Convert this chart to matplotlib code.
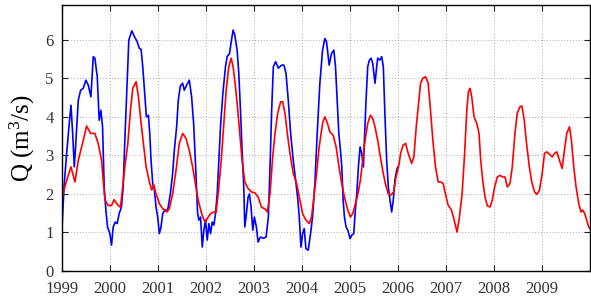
"""Observed vs simulated discharge Q, 1999-2010."""

import matplotlib

matplotlib.use("Agg")
import matplotlib.pyplot as plt

# observed discharge (blue), decimal years / m^3/s
OBS_T = [
    1999.000, 1999.042, 1999.097, 1999.145, 1999.187, 1999.222, 1999.256, 1999.291,
    1999.339, 1999.388, 1999.443, 1999.498, 1999.547, 1999.602, 1999.651, 1999.685,
    1999.734, 1999.775, 1999.810, 1999.845, 1999.879, 1999.914, 1999.949, 1999.997,
    2000.032, 2000.066, 2000.108, 2000.149, 2000.191, 2000.239, 2000.274, 2000.309,
    2000.343, 2000.392, 2000.454, 2000.509, 2000.565, 2000.613, 2000.648, 2000.682,
    2000.717, 2000.758, 2000.800, 2000.828, 2000.855, 2000.890, 2000.925, 2000.959,
    2000.994, 2001.028, 2001.063, 2001.098, 2001.146, 2001.202, 2001.257, 2001.305,
    2001.340, 2001.388, 2001.423, 2001.465, 2001.513, 2001.548, 2001.596, 2001.652,
    2001.700, 2001.742, 2001.790, 2001.825, 2001.852, 2001.887, 2001.922, 2001.956,
    2001.991, 2002.025, 2002.060, 2002.095, 2002.129, 2002.164, 2002.198, 2002.233,
    2002.268, 2002.302, 2002.351, 2002.406, 2002.441, 2002.489, 2002.531, 2002.565,
    2002.600, 2002.648, 2002.683, 2002.718, 2002.752, 2002.787, 2002.808, 2002.842,
    2002.877, 2002.905, 2002.939, 2002.974, 2003.008, 2003.050, 2003.085, 2003.133,
    2003.200, 2003.251, 2003.299, 2003.334, 2003.368, 2003.403, 2003.451, 2003.507,
    2003.576, 2003.624, 2003.666, 2003.714, 2003.763, 2003.818, 2003.867, 2003.908,
    2003.943, 2003.978, 2004.012, 2004.047, 2004.081, 2004.130, 2004.178, 2004.220,
    2004.268, 2004.317, 2004.372, 2004.428, 2004.476, 2004.511, 2004.566, 2004.614,
    2004.663, 2004.698, 2004.732, 2004.767, 2004.801, 2004.829, 2004.857, 2004.884,
    2004.919, 2004.954, 2005.002, 2005.037, 2005.078, 2005.106, 2005.141, 2005.175,
    2005.210, 2005.244, 2005.279, 2005.300, 2005.334, 2005.369, 2005.404, 2005.438,
    2005.473, 2005.521, 2005.556, 2005.577, 2005.618, 2005.660, 2005.694, 2005.729,
    2005.764, 2005.798, 2005.833, 2005.868, 2005.902, 2005.936, 2005.971, 2005.995,
]
OBS_Q = [
    1.10, 2.18, 3.05, 3.74, 4.30, 3.57, 2.70, 3.39,
    4.43, 4.69, 4.74, 4.95, 4.82, 4.52, 5.56, 5.52,
    5.04, 3.91, 4.17, 3.74, 2.18, 1.58, 1.14, 0.97,
    0.67, 1.14, 1.27, 1.23, 1.49, 1.66, 2.18, 3.39,
    4.43, 5.99, 6.23, 6.08, 5.95, 5.77, 5.75, 5.30,
    4.69, 4.00, 4.04, 3.57, 2.87, 2.27, 2.10, 1.66,
    1.40, 0.97, 1.14, 1.49, 1.58, 1.58, 2.00, 2.53,
    3.13, 3.74, 4.43, 4.80, 4.87, 4.69, 4.82, 4.95,
    4.52, 3.83, 2.53, 1.50, 1.32, 1.40, 0.62, 1.06,
    1.32, 0.80, 1.23, 0.97, 1.27, 1.19, 1.49, 2.00,
    2.87, 3.74, 4.60, 5.30, 5.56, 5.64, 5.99, 6.25,
    6.12, 5.73, 5.13, 4.17, 3.13, 2.18, 1.14, 1.49,
    1.92, 2.00, 1.66, 1.06, 1.40, 1.14, 0.75, 0.88,
    0.85, 0.88, 1.40, 2.70, 4.17, 5.30, 5.43, 5.26,
    5.34, 5.34, 5.13, 4.43, 3.57, 2.87, 2.36, 1.92,
    1.40, 0.62, 0.97, 1.10, 0.58, 0.54, 0.97, 1.40,
    2.27, 3.57, 4.87, 5.73, 6.03, 5.95, 5.34, 5.64,
    5.73, 5.30, 4.43, 3.57, 3.13, 2.70, 1.84, 1.40,
    1.14, 1.06, 0.84, 0.93, 0.97, 1.49, 2.00, 2.70,
    3.22, 3.05, 2.70, 3.39, 4.43, 5.30, 5.47, 5.52,
    5.39, 4.87, 5.30, 5.52, 5.47, 5.56, 5.30, 4.00,
    2.87, 2.18, 1.84, 1.53, 1.84, 2.36, 2.61, 2.70,
]

# simulated discharge (red)
SIM_T = [
    1999.000, 1999.014, 1999.097, 1999.187, 1999.270, 1999.339, 1999.443, 1999.512,
    1999.595, 1999.685, 1999.755, 1999.824, 1999.893, 1999.962, 2000.032, 2000.087,
    2000.149, 2000.219, 2000.309, 2000.371, 2000.426, 2000.475, 2000.544, 2000.592,
    2000.648, 2000.703, 2000.752, 2000.821, 2000.869, 2000.911, 2000.959, 2001.028,
    2001.098, 2001.188, 2001.236, 2001.305, 2001.375, 2001.444, 2001.513, 2001.582,
    2001.652, 2001.721, 2001.790, 2001.838, 2001.908, 2001.977, 2002.025, 2002.095,
    2002.164, 2002.212, 2002.268, 2002.323, 2002.372, 2002.420, 2002.475, 2002.524,
    2002.565, 2002.614, 2002.662, 2002.704, 2002.752, 2002.808, 2002.877, 2002.946,
    2003.015, 2003.085, 2003.154, 2003.237, 2003.278, 2003.334, 2003.389, 2003.438,
    2003.493, 2003.555, 2003.597, 2003.645, 2003.694, 2003.749, 2003.818, 2003.888,
    2003.957, 2004.012, 2004.081, 2004.151, 2004.199, 2004.248, 2004.303, 2004.358,
    2004.428, 2004.476, 2004.531, 2004.580, 2004.649, 2004.711, 2004.760, 2004.815,
    2004.884, 2004.954, 2005.009, 2005.058, 2005.106, 2005.161, 2005.217, 2005.265,
    2005.314, 2005.369, 2005.424, 2005.473, 2005.521, 2005.577, 2005.632, 2005.681,
    2005.736, 2005.798, 2005.854, 2005.909, 2005.958, 2006.020, 2006.054, 2006.103,
    2006.158, 2006.214, 2006.283, 2006.331, 2006.380, 2006.421, 2006.470, 2006.518,
    2006.574, 2006.629, 2006.677, 2006.726, 2006.781, 2006.837, 2006.885, 2006.941,
    2006.989, 2007.044, 2007.114, 2007.162, 2007.231, 2007.280, 2007.335, 2007.384,
    2007.435, 2007.467, 2007.501, 2007.536, 2007.584, 2007.640, 2007.688, 2007.723,
    2007.764, 2007.813, 2007.861, 2007.917, 2007.965, 2008.007, 2008.069, 2008.124,
    2008.180, 2008.228, 2008.277, 2008.332, 2008.381, 2008.436, 2008.484, 2008.540,
    2008.581, 2008.630, 2008.678, 2008.736, 2008.789, 2008.844, 2008.893, 2008.948,
    2009.004, 2009.052, 2009.100, 2009.156, 2009.211, 2009.260, 2009.308, 2009.364,
    2009.419, 2009.467, 2009.516, 2009.571, 2009.613, 2009.661, 2009.710, 2009.765,
    2009.813, 2009.848, 2009.890, 2009.931, 2009.973, 2010.000,
]
SIM_Q = [
    1.90, 1.97, 2.35, 2.70, 2.31, 2.87, 3.39, 3.76,
    3.57, 3.57, 3.30, 2.87, 1.85, 1.70, 1.70, 1.85,
    1.73, 1.65, 2.70, 3.30, 4.17, 4.74, 4.91, 4.52,
    3.83, 3.22, 2.70, 2.31, 2.10, 2.24, 2.00, 1.75,
    1.62, 1.53, 1.62, 2.00, 2.61, 3.31, 3.57, 3.44,
    3.13, 2.70, 2.18, 1.84, 1.49, 1.27, 1.36, 1.49,
    1.53, 1.53, 2.18, 2.96, 3.83, 4.69, 5.30, 5.52,
    5.30, 4.78, 4.17, 3.57, 2.87, 2.31, 2.14, 2.05,
    2.03, 1.92, 1.66, 1.60, 1.53, 2.00, 2.96, 3.57,
    4.09, 4.39, 4.39, 4.09, 3.57, 3.05, 2.53, 2.27,
    1.84, 1.49, 1.32, 1.23, 1.40, 1.92, 2.53, 3.22,
    3.83, 4.00, 3.83, 3.61, 3.52, 3.22, 2.79, 2.36,
    1.92, 1.58, 1.40, 1.49, 1.71, 1.97, 2.36, 2.87,
    3.39, 3.83, 4.04, 3.96, 3.74, 3.39, 2.96, 2.61,
    2.27, 2.00, 1.97, 2.05, 2.44, 2.75, 3.05, 3.26,
    3.31, 3.05, 2.79, 2.96, 3.74, 4.26, 4.87, 5.00,
    5.04, 4.87, 4.17, 3.39, 2.70, 2.31, 2.31, 2.27,
    2.00, 1.71, 1.58, 1.36, 1.01, 1.40, 2.00, 2.96,
    4.20, 4.65, 4.74, 4.52, 4.00, 3.83, 3.57, 2.87,
    2.36, 1.92, 1.69, 1.66, 1.84, 2.14, 2.44, 2.48,
    2.44, 2.44, 2.18, 2.27, 2.70, 3.57, 4.09, 4.26,
    4.28, 3.91, 3.31, 2.70, 2.30, 2.05, 1.99, 2.10,
    2.53, 3.05, 3.09, 3.03, 2.96, 3.05, 3.09, 2.87,
    2.66, 3.13, 3.57, 3.74, 3.39, 2.70, 2.18, 1.75,
    1.53, 1.58, 1.49, 1.32, 1.14, 1.10,
]

YEARS = list(range(1999, 2010))
Q_TICKS = [0, 1, 2, 3, 4, 5, 6]

plt.rcParams["font.family"] = ["Liberation Serif", "DejaVu Serif"]
plt.rcParams["mathtext.fontset"] = "custom"
plt.rcParams["mathtext.rm"] = "Liberation Serif"
plt.rcParams["mathtext.it"] = "Liberation Serif:italic"

fig = plt.figure(figsize=(5.91, 2.99), dpi=100)
ax = fig.add_axes([62 / 591, 28 / 299, 528 / 591, 266 / 299])

ax.plot(OBS_T, OBS_Q, color="#0000ff", linewidth=1.2)
ax.plot(SIM_T, SIM_Q, color="#ff0000", linewidth=1.2)

ax.set_xlim(1999, 2010)
ax.set_ylim(0, 6.9)
ax.set_xticks(YEARS)
ax.set_xticklabels([str(y) for y in YEARS])
ax.set_yticks(Q_TICKS)
ax.tick_params(direction="in", top=True, right=True, length=4, width=0.8,
               labelsize=12, colors="#222222", labelcolor="#333333")
ax.tick_params(axis="y", pad=6)
ax.tick_params(axis="x", pad=7)
ax.grid(True, linestyle=(0, (1, 2)), color="#aaaaaa", linewidth=0.7)
for s in ax.spines.values():
    s.set_linewidth(1.0)
ax.set_ylabel("Q (m$^3$/s)", fontsize=18, labelpad=6)

fig.savefig("out.png", dpi=100)
